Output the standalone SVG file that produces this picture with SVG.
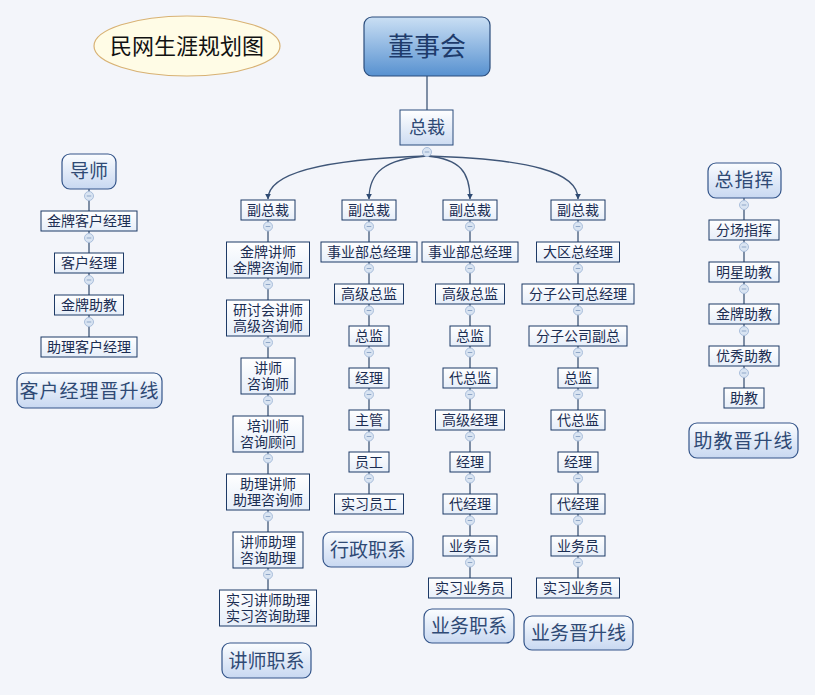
<svg xmlns="http://www.w3.org/2000/svg" xmlns:xlink="http://www.w3.org/1999/xlink" width="815" height="695" viewBox="0 0 815 695">
<defs>
<linearGradient id="gb" x1="0" y1="0" x2="0" y2="1"><stop offset="0" stop-color="#ffffff"/><stop offset="1" stop-color="#e6eef9"/></linearGradient>
<linearGradient id="gr" x1="0" y1="0" x2="0" y2="1"><stop offset="0" stop-color="#fbfdff"/><stop offset="1" stop-color="#c8d8f1"/></linearGradient>
<linearGradient id="gd" x1="0" y1="0" x2="0" y2="1"><stop offset="0" stop-color="#cadff4"/><stop offset="1" stop-color="#5791d0"/></linearGradient>
<linearGradient id="gz" x1="0" y1="0" x2="0" y2="1"><stop offset="0" stop-color="#ffffff"/><stop offset="1" stop-color="#cddcf2"/></linearGradient>
<marker id="ar" viewBox="0 0 10 10" refX="9" refY="5" markerWidth="6" markerHeight="6" orient="auto" markerUnits="userSpaceOnUse"><path d="M0,0 L10,5 L0,10 Z" fill="#2e4a72"/></marker>
<g id="tg"><circle r="4.5" fill="#d9e4f2" stroke="#a9bedb" stroke-width="1"/><line x1="-2.3" y1="0" x2="2.3" y2="0" stroke="#8fa7c8" stroke-width="1"/></g>
<style>
.b{fill:url(#gb);stroke:#1d3a66;stroke-width:1}
.r{fill:url(#gr);stroke:#34558a;stroke-width:1.2}
.t{font-family:"Liberation Sans","Noto Sans CJK SC",sans-serif;font-size:14px;fill:#1b2d52;text-anchor:middle;dominant-baseline:central}
.L{font-size:19px;fill:#2f4a75}
.c{fill:none;stroke:#3f5678;stroke-width:1.3}
</style>
</defs>
<rect width="815" height="695" fill="#f3f5fa"/>

<g id="connectors">
<path class="c" d="M427,76 V110"/>
<path class="c" d="M427,156 C330,159 268,172 268,199" marker-end="url(#ar)"/>
<path class="c" d="M427,156 C385,159 369,172 369,199" marker-end="url(#ar)"/>
<path class="c" d="M427,156 C460,159 470,172 470,199" marker-end="url(#ar)"/>
<path class="c" d="M427,156 C530,159 578,172 578,199" marker-end="url(#ar)"/>
<path class="c" d="M268,220 V590"/>
<path class="c" d="M369,220 V494"/>
<path class="c" d="M470,220 V578"/>
<path class="c" d="M578,220 V578"/>
<path class="c" d="M89,189 V337"/>
<path class="c" d="M744,198 V388"/>
</g>

<g id="title"><ellipse cx="187" cy="46" rx="93" ry="30" fill="#fffce6" stroke="#d8b274" stroke-width="1.2"/><text class="t" x="187" y="46" style="font-size:22px;fill:#111">民网生涯规划图</text></g>

<g id="dongshihui"><rect x="364" y="17" width="126" height="59" rx="8" fill="url(#gd)" stroke="#2b4d7c" stroke-width="1.2"/><text class="t" x="427" y="47" style="font-size:26px;fill:#1e3b6b">董事会</text></g>
<g id="zongcai"><rect x="400" y="110" width="53" height="35" fill="url(#gz)" stroke="#2b4d7c" stroke-width="1"/><text class="t" x="427" y="128" style="font-size:18px;fill:#2f4a75">总裁</text></g>

<!-- column 1 -->
<g id="c1n0"><rect class="b" x="241" y="200" width="54" height="20"/><text class="t" x="268" y="210">副总裁</text></g>
<g id="c1n1"><rect class="b" x="226.5" y="242" width="83" height="36"/><text class="t"><tspan x="268" y="252">金牌讲师</tspan><tspan x="268" dy="16">金牌咨询师</tspan></text></g>
<g id="c1n2"><rect class="b" x="226.5" y="300" width="83" height="36"/><text class="t"><tspan x="268" y="310">研讨会讲师</tspan><tspan x="268" dy="16">高级咨询师</tspan></text></g>
<g id="c1n3"><rect class="b" x="241" y="358" width="54" height="36"/><text class="t"><tspan x="268" y="368">讲师</tspan><tspan x="268" dy="16">咨询师</tspan></text></g>
<g id="c1n4"><rect class="b" x="233" y="416" width="70" height="36"/><text class="t"><tspan x="268" y="426">培训师</tspan><tspan x="268" dy="16">咨询顾问</tspan></text></g>
<g id="c1n5"><rect class="b" x="226.5" y="474" width="83" height="36"/><text class="t"><tspan x="268" y="484">助理讲师</tspan><tspan x="268" dy="16">助理咨询师</tspan></text></g>
<g id="c1n6"><rect class="b" x="233" y="532" width="70" height="36"/><text class="t"><tspan x="268" y="542">讲师助理</tspan><tspan x="268" dy="16">咨询助理</tspan></text></g>
<g id="c1n7"><rect class="b" x="219.5" y="590" width="97" height="36"/><text class="t"><tspan x="268" y="600">实习讲师助理</tspan><tspan x="268" dy="16">实习咨询助理</tspan></text></g>
<g id="c1label"><rect class="r" x="222" y="643" width="89" height="35" rx="8"/><text class="t L" x="266.5" y="661">讲师职系</text></g>

<!-- column 2 -->
<g id="c2n0"><rect class="b" x="342" y="200" width="54" height="20"/><text class="t" x="369" y="210">副总裁</text></g>
<g id="c2n1"><rect class="b" x="321" y="242" width="96" height="20"/><text class="t" x="369" y="252">事业部总经理</text></g>
<g id="c2n2"><rect class="b" x="334.5" y="284" width="69" height="20"/><text class="t" x="369" y="294">高级总监</text></g>
<g id="c2n3"><rect class="b" x="349" y="326" width="40" height="20"/><text class="t" x="369" y="336">总监</text></g>
<g id="c2n4"><rect class="b" x="349" y="368" width="40" height="20"/><text class="t" x="369" y="378">经理</text></g>
<g id="c2n5"><rect class="b" x="349" y="410" width="40" height="20"/><text class="t" x="369" y="420">主管</text></g>
<g id="c2n6"><rect class="b" x="349" y="452" width="40" height="20"/><text class="t" x="369" y="462">员工</text></g>
<g id="c2n7"><rect class="b" x="334.5" y="494" width="69" height="20"/><text class="t" x="369" y="504">实习员工</text></g>
<g id="c2label"><rect class="r" x="323" y="532" width="90" height="35" rx="8"/><text class="t L" x="368" y="550">行政职系</text></g>

<!-- column 3 -->
<g id="c3n0"><rect class="b" x="443" y="200" width="54" height="20"/><text class="t" x="470" y="210">副总裁</text></g>
<g id="c3n1"><rect class="b" x="422" y="242" width="96" height="20"/><text class="t" x="470" y="252">事业部总经理</text></g>
<g id="c3n2"><rect class="b" x="435.5" y="284" width="69" height="20"/><text class="t" x="470" y="294">高级总监</text></g>
<g id="c3n3"><rect class="b" x="450" y="326" width="40" height="20"/><text class="t" x="470" y="336">总监</text></g>
<g id="c3n4"><rect class="b" x="443" y="368" width="54" height="20"/><text class="t" x="470" y="378">代总监</text></g>
<g id="c3n5"><rect class="b" x="435.5" y="410" width="69" height="20"/><text class="t" x="470" y="420">高级经理</text></g>
<g id="c3n6"><rect class="b" x="450" y="452" width="40" height="20"/><text class="t" x="470" y="462">经理</text></g>
<g id="c3n7"><rect class="b" x="443" y="494" width="54" height="20"/><text class="t" x="470" y="504">代经理</text></g>
<g id="c3n8"><rect class="b" x="443" y="536" width="54" height="20"/><text class="t" x="470" y="546">业务员</text></g>
<g id="c3n9"><rect class="b" x="428.5" y="578" width="83" height="20"/><text class="t" x="470" y="588">实习业务员</text></g>
<g id="c3label"><rect class="r" x="424" y="609" width="90" height="34" rx="8"/><text class="t L" x="469" y="626">业务职系</text></g>

<!-- column 4 -->
<g id="c4n0"><rect class="b" x="551" y="200" width="54" height="20"/><text class="t" x="578" y="210">副总裁</text></g>
<g id="c4n1"><rect class="b" x="536.5" y="242" width="83" height="20"/><text class="t" x="578" y="252">大区总经理</text></g>
<g id="c4n2"><rect class="b" x="522" y="284" width="112" height="20"/><text class="t" x="578" y="294">分子公司总经理</text></g>
<g id="c4n3"><rect class="b" x="529" y="326" width="98" height="20"/><text class="t" x="578" y="336">分子公司副总</text></g>
<g id="c4n4"><rect class="b" x="558" y="368" width="40" height="20"/><text class="t" x="578" y="378">总监</text></g>
<g id="c4n5"><rect class="b" x="551" y="410" width="54" height="20"/><text class="t" x="578" y="420">代总监</text></g>
<g id="c4n6"><rect class="b" x="558" y="452" width="40" height="20"/><text class="t" x="578" y="462">经理</text></g>
<g id="c4n7"><rect class="b" x="551" y="494" width="54" height="20"/><text class="t" x="578" y="504">代经理</text></g>
<g id="c4n8"><rect class="b" x="551" y="536" width="54" height="20"/><text class="t" x="578" y="546">业务员</text></g>
<g id="c4n9"><rect class="b" x="536.5" y="578" width="83" height="20"/><text class="t" x="578" y="588">实习业务员</text></g>
<g id="c4label"><rect class="r" x="524" y="616" width="109" height="34" rx="8"/><text class="t L" x="578.5" y="633">业务晋升线</text></g>

<!-- left column -->
<g id="l0"><rect class="r" x="62" y="154" width="54" height="35" rx="8"/><text class="t L" x="89" y="171.5">导师</text></g>
<g id="l1"><rect class="b" x="41" y="211" width="96" height="20"/><text class="t" x="89" y="221">金牌客户经理</text></g>
<g id="l2"><rect class="b" x="54.5" y="253" width="69" height="20"/><text class="t" x="89" y="263">客户经理</text></g>
<g id="l3"><rect class="b" x="54.5" y="295" width="69" height="20"/><text class="t" x="89" y="305">金牌助教</text></g>
<g id="l4"><rect class="b" x="41" y="337" width="96" height="20"/><text class="t" x="89" y="347">助理客户经理</text></g>
<g id="llabel"><rect class="r" x="17" y="373" width="145" height="35" rx="8"/><text class="t L" x="89.5" y="391" style="letter-spacing:1px">客户经理晋升线</text></g>

<!-- right column -->
<g id="r0"><rect class="r" x="708" y="163" width="73" height="35" rx="8"/><text class="t L" x="744.5" y="180.5" style="letter-spacing:1px">总指挥</text></g>
<g id="r1"><rect class="b" x="709" y="220" width="70" height="20"/><text class="t" x="744" y="230">分场指挥</text></g>
<g id="r2"><rect class="b" x="709" y="262" width="70" height="20"/><text class="t" x="744" y="272">明星助教</text></g>
<g id="r3"><rect class="b" x="709" y="304" width="70" height="20"/><text class="t" x="744" y="314">金牌助教</text></g>
<g id="r4"><rect class="b" x="709" y="346" width="70" height="20"/><text class="t" x="744" y="356">优秀助教</text></g>
<g id="r5"><rect class="b" x="724" y="388" width="40" height="20"/><text class="t" x="744" y="398">助教</text></g>
<g id="rlabel"><rect class="r" x="689" y="423" width="109" height="35" rx="8"/><text class="t L" x="743.5" y="441" style="letter-spacing:1px">助教晋升线</text></g>

<g id="toggles">
<use xlink:href="#tg" x="427" y="152"/>
<use xlink:href="#tg" x="268" y="226.5"/><use xlink:href="#tg" x="268" y="284.5"/><use xlink:href="#tg" x="268" y="342.5"/><use xlink:href="#tg" x="268" y="400.5"/><use xlink:href="#tg" x="268" y="458.5"/><use xlink:href="#tg" x="268" y="516.5"/><use xlink:href="#tg" x="268" y="574.5"/>
<use xlink:href="#tg" x="369" y="226.5"/><use xlink:href="#tg" x="369" y="268.5"/><use xlink:href="#tg" x="369" y="310.5"/><use xlink:href="#tg" x="369" y="352.5"/><use xlink:href="#tg" x="369" y="394.5"/><use xlink:href="#tg" x="369" y="436.5"/><use xlink:href="#tg" x="369" y="478.5"/>
<use xlink:href="#tg" x="470" y="226.5"/><use xlink:href="#tg" x="470" y="268.5"/><use xlink:href="#tg" x="470" y="310.5"/><use xlink:href="#tg" x="470" y="352.5"/><use xlink:href="#tg" x="470" y="394.5"/><use xlink:href="#tg" x="470" y="436.5"/><use xlink:href="#tg" x="470" y="478.5"/><use xlink:href="#tg" x="470" y="520.5"/><use xlink:href="#tg" x="470" y="562.5"/>
<use xlink:href="#tg" x="578" y="226.5"/><use xlink:href="#tg" x="578" y="268.5"/><use xlink:href="#tg" x="578" y="310.5"/><use xlink:href="#tg" x="578" y="352.5"/><use xlink:href="#tg" x="578" y="394.5"/><use xlink:href="#tg" x="578" y="436.5"/><use xlink:href="#tg" x="578" y="478.5"/><use xlink:href="#tg" x="578" y="520.5"/><use xlink:href="#tg" x="578" y="562.5"/>
<use xlink:href="#tg" x="89" y="196"/><use xlink:href="#tg" x="89" y="238"/><use xlink:href="#tg" x="89" y="280"/><use xlink:href="#tg" x="89" y="322"/>
<use xlink:href="#tg" x="744" y="205"/><use xlink:href="#tg" x="744" y="247"/><use xlink:href="#tg" x="744" y="289"/><use xlink:href="#tg" x="744" y="331"/><use xlink:href="#tg" x="744" y="373"/>
</g>
</svg>
